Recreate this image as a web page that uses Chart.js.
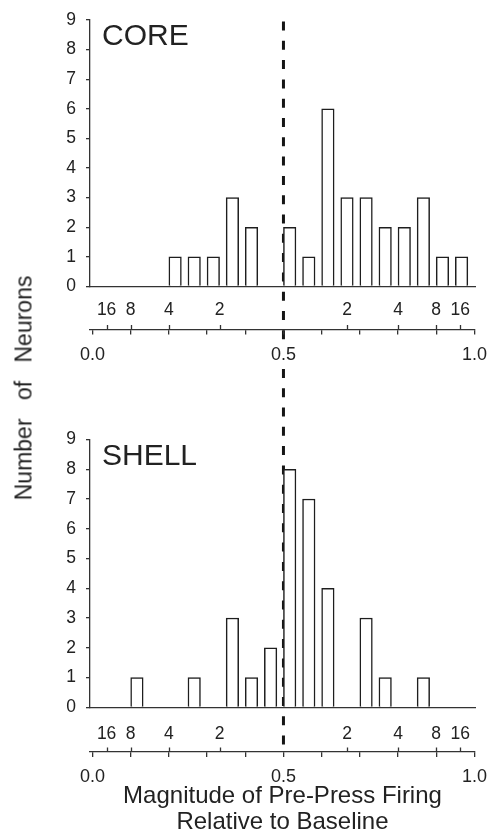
<!DOCTYPE html>
<html>
<head>
<meta charset="utf-8">
<title>Pre-press firing histograms</title>
<script src="https://cdn.jsdelivr.net/npm/chart.js@4.4.0/dist/chart.umd.min.js"></script>
<style>
  html, body { margin: 0; padding: 0; background: #fff; overflow: hidden; }
  #figure { position: relative; width: 489px; height: 832px; }
  .panel { position: absolute; left: 0; width: 489px; height: 416px; }
  .panel canvas { display: block; }
  #ylabel {
    position: absolute; left: 24px; top: 388px;
    transform: translate(-50%, -50%) rotate(-90deg);
    font: 23px "Liberation Sans", Arial, sans-serif; color: #222;
    white-space: nowrap; word-spacing: 12px;
  }
</style>
</head>
<body>
<div id="figure">
  <div class="panel" style="top:0"><canvas id="core" width="489" height="416"></canvas></div>
  <div class="panel" style="top:416px"><canvas id="shell" width="489" height="416"></canvas></div>
  <div id="ylabel">Number of Neurons</div>
</div>
<script>
// histogram bins (left edge of each 0.05 bin on the 0..1 index)
var BIN_STARTS = [0.00, 0.05, 0.10, 0.15, 0.20, 0.25, 0.30, 0.35, 0.40, 0.45,
                  0.50, 0.55, 0.60, 0.65, 0.70, 0.75, 0.80, 0.85, 0.90, 0.95];
var BIN_WIDTH = 0.05;

// neuron counts per bin
var CORE_COUNTS  = [0, 0, 0, 0, 1, 1, 1, 3, 2, 0, 2, 1, 6, 3, 3, 2, 2, 3, 1, 1];
var SHELL_COUNTS = [0, 0, 1, 0, 0, 1, 0, 3, 1, 2, 8, 7, 4, 0, 3, 1, 0, 1, 0, 0];

// axes
var Y_MAX = 9;
var FOLD_TICKS  = [0.037, 0.1, 0.2, 0.333, 0.667, 0.8, 0.9, 0.963];
var FOLD_LABELS = ['16', '8', '4', '2', '2', '4', '8', '16'];
var INDEX_TICKS = [0, 0.1, 0.2, 0.3, 0.4, 0.5, 0.6, 0.7, 0.8, 0.9, 1.0];
var INDEX_LABELED = [0, 0.5, 1.0];
var DIVIDE_AT = 0.5;
var X_TITLE = ['Magnitude of Pre-Press Firing', 'Relative to Baseline'];

var INK = '#222';
var LINE = '#333';
var FONT = '"Liberation Sans", Arial, sans-serif';
var PANEL_H = 416;

Chart.defaults.font.family = FONT;
Chart.defaults.color = INK;

// dashed divider, upward fold ticks and the panel name
var figureMarks = {
    id: 'figureMarks',
    beforeDraw: function(chart, args, o) {
        var ctx = chart.ctx;
        var x = chart.scales.x.getPixelForValue(DIVIDE_AT);
        var from = o.dashFrom !== null ? o.dashFrom : chart.chartArea.top + 1.5;
        var to = o.dashTo === 'canvas' ? chart.height : chart.scales.dec.top - 1;
        ctx.save();
        ctx.strokeStyle = '#151515';
        ctx.lineWidth = 3;
        ctx.setLineDash([9, 10.3]);
        ctx.beginPath();
        ctx.moveTo(x, from);
        ctx.lineTo(x, to);
        ctx.stroke();
        ctx.restore();
    },
    afterDraw: function(chart, args, o) {
        var ctx = chart.ctx;
        var fold = chart.scales.x;
        var dec = chart.scales.dec;
        ctx.save();
        ctx.strokeStyle = LINE;
        ctx.lineWidth = 1.3;
        ctx.beginPath();
        fold.ticks.forEach(function(t) {
            var px = Math.round(fold.getPixelForValue(t.value)) + 0.5;
            ctx.moveTo(px, dec.top);
            ctx.lineTo(px, dec.top - 4.5);
        });
        ctx.stroke();

        ctx.fillStyle = INK;
        ctx.font = '30px ' + FONT;
        ctx.textBaseline = 'alphabetic';
        ctx.fillText(o.name, chart.chartArea.left + 12, chart.chartArea.top + 25);
        ctx.restore();
    }
};

function makePanel(id, counts, name, p) {
    var points = BIN_STARTS.map(function(b, i) {
        return { x: b + BIN_WIDTH * 0.327, y: counts[i] || null };
    });
    var dashThroughLabels = p.dashTo === 'canvas';

    return new Chart(document.getElementById(id), {
        type: 'bar',
        data: {
            datasets: [{
                data: points,
                backgroundColor: '#fff',
                borderColor: '#1e1e1e',
                borderWidth: 1.5,
                borderSkipped: 'start',
                barThickness: 12.5
            }]
        },
        plugins: [figureMarks],
        options: {
            responsive: false,
            animation: false,
            events: [],
            layout: { padding: { top: p.padTop, right: 14, bottom: 0, left: 0 } },
            plugins: {
                legend: { display: false },
                tooltip: { enabled: false },
                figureMarks: { name: name, dashFrom: p.dashFrom, dashTo: p.dashTo }
            },
            scales: {
                y: {
                    position: 'left',
                    min: 0,
                    max: Y_MAX,
                    ticks: { stepSize: 1, padding: 10, font: { size: 17.5 }, color: INK },
                    grid: { drawOnChartArea: false, tickLength: 4, color: LINE, lineWidth: 1.3 },
                    border: { display: true, color: LINE, width: 1.3 },
                    afterFit: function(s) {
                        s.width = 90;
                        s.paddingTop = 0;
                        s.paddingBottom = 0;
                    }
                },
                x: {
                    type: 'linear',
                    position: 'bottom',
                    min: -0.0065,
                    max: 1.0015,
                    offset: false,
                    grid: { display: false, drawTicks: false, offset: false },
                    border: { display: true, color: LINE, width: 1.3 },
                    ticks: {
                        autoSkip: false, maxRotation: 0, minRotation: 0,
                        padding: p.foldPad, font: { size: 17.5 }, color: INK,
                        callback: function(v, i) { return FOLD_LABELS[i]; }
                    },
                    afterBuildTicks: function(s) {
                        s.ticks = FOLD_TICKS.map(function(v) { return { value: v }; });
                    },
                    afterFit: function(s) {
                        s.height = p.foldH;
                        s.paddingLeft = 0;
                        s.paddingRight = 0;
                    }
                },
                dec: {
                    type: 'linear',
                    position: 'bottom',
                    min: -0.0065,
                    max: 1.0015,
                    offset: false,
                    grid: {
                        offset: false, drawOnChartArea: false, drawTicks: true,
                        tickLength: 5, color: LINE, lineWidth: 1.3
                    },
                    border: { display: true, color: LINE, width: 1.3 },
                    ticks: {
                        autoSkip: false, maxRotation: 0, minRotation: 0,
                        padding: 9.5, font: { size: 18 }, color: INK,
                        backdropColor: '#fff', backdropPadding: 1,
                        showLabelBackdrop: function(c) {
                            return dashThroughLabels && c.tick && c.tick.value === DIVIDE_AT;
                        },
                        callback: function(v) {
                            return INDEX_LABELED.indexOf(v) >= 0 ? v.toFixed(1) : '';
                        }
                    },
                    title: {
                        display: !!p.xTitle,
                        text: p.xTitle || '',
                        color: INK,
                        font: { size: 24, lineHeight: 1.1 },
                        padding: { top: 0, bottom: -4 }
                    },
                    afterBuildTicks: function(s) {
                        s.ticks = INDEX_TICKS.map(function(v) { return { value: v }; });
                    },
                    afterFit: function(s) {
                        s.height = p.decH;
                        s.paddingLeft = 0;
                        s.paddingRight = 0;
                    }
                }
            }
        }
    });
}

var coreChart = makePanel('core', CORE_COUNTS, 'CORE', {
    padTop: 20, foldH: 43, foldPad: 13.5, decH: 86.5,
    xTitle: null, dashFrom: null, dashTo: 'canvas'
});

var shellChart = makePanel('shell', SHELL_COUNTS, 'SHELL', {
    padTop: 23.5, foldH: 44.7, foldPad: 16.5, decH: 80,
    xTitle: X_TITLE, dashFrom: coreChart.chartArea.top + 1.5 - PANEL_H, dashTo: 'dec'
});
</script>
</body>
</html>
